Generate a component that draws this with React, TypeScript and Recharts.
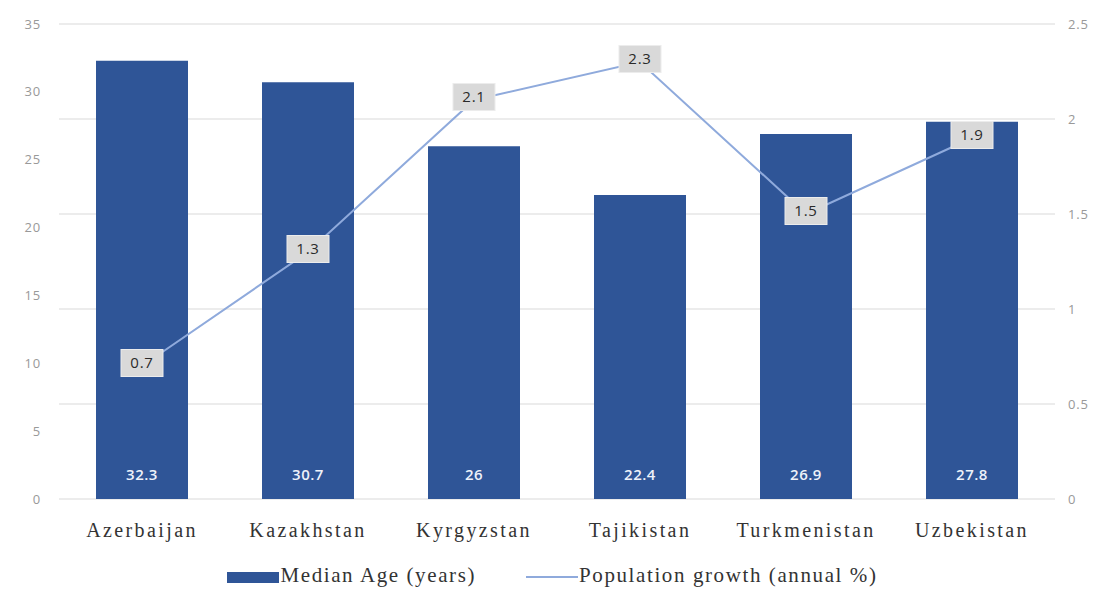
import React from 'react';
import { ComposedChart, Bar, Line, XAxis, YAxis, CartesianGrid, LabelList, Legend } from 'recharts';

const countries = ['Azerbaijan', 'Kazakhstan', 'Kyrgyzstan', 'Tajikistan', 'Turkmenistan', 'Uzbekistan'];
const medianAge = [32.3, 30.7, 26, 22.4, 26.9, 27.8];
const popGrowth = [0.7, 1.3, 2.1, 2.3, 1.5, 1.9];
const leftTicks = [0, 5, 10, 15, 20, 25, 30, 35];
const rightTicks = [0, 0.5, 1, 1.5, 2, 2.5];

const data = countries.map((c, i) => ({ country: c, age: medianAge[i], growth: popGrowth[i] }));

const BAR_COLOR = '#2F5597';
const LINE_COLOR = '#8FAADC';

const LineLabel = (props: any) => {
  const { x, y, value } = props;
  const w = 42;
  const h = 27;
  const cy = y - 3;
  return (
    <g>
      <rect x={x - w / 2} y={cy - h / 2} width={w} height={h} fill="#d9d9d9" stroke="#ececec" strokeWidth={1} />
      <text x={x} y={cy + 1} textAnchor="middle" dominantBaseline="middle" fontFamily="Open Sans, sans-serif" fontSize={15} letterSpacing={0.8} fill="#2a2a2a">
        {value}
      </text>
    </g>
  );
};

const LegendContent = () => (
  <div style={{ display: 'flex', justifyContent: 'center', alignItems: 'center', height: 26, fontFamily: 'Liberation Serif, serif', fontSize: 21, letterSpacing: 1.6, color: '#333', paddingLeft: 6 }}>
    <span style={{ display: 'inline-block', width: 52, height: 11, background: BAR_COLOR, marginRight: 1, position: 'relative', top: 2 }} />
    <span>Median Age (years)</span>
    <span style={{ display: 'inline-block', width: 52, height: 2, background: LINE_COLOR, marginLeft: 50, marginRight: 1, position: 'relative', top: 2 }} />
    <span>Population growth (annual %)</span>
  </div>
);

export default function App() {
  return (
    <div style={{ margin: -8, width: 1099, height: 596, background: '#fff' }}>
      <ComposedChart width={1099} height={596} data={data} margin={{ top: 24, right: 0, bottom: 0, left: 0 }}>
        <CartesianGrid yAxisId="right" vertical={false} stroke="#d9d9d9" />
        <XAxis
          dataKey="country"
          axisLine={false}
          tickLine={false}
          height={97 - 30}
          tickMargin={18}
          tick={{ fontFamily: 'Liberation Serif, serif', fontSize: 20, letterSpacing: 2.4, fill: '#333' }}
        />
        <YAxis
          yAxisId="left"
          orientation="left"
          width={59}
          domain={[0, 35]}
          ticks={leftTicks}
          axisLine={false}
          tickLine={false}
          tickMargin={12}
          tick={{ fontFamily: 'Open Sans, sans-serif', fontSize: 13, letterSpacing: 0.8, fill: '#999' }}
        />
        <YAxis
          yAxisId="right"
          orientation="right"
          width={44}
          domain={[0, 2.5]}
          ticks={rightTicks}
          axisLine={false}
          tickLine={false}
          tickMargin={7}
          tick={{ fontFamily: 'Open Sans, sans-serif', fontSize: 13, letterSpacing: 0.8, fill: '#999' }}
        />
        <Bar yAxisId="left" dataKey="age" fill={BAR_COLOR} barSize={92} isAnimationActive={false}>
          <LabelList
            dataKey="age"
            position="insideBottom"
            offset={19}
            fill="#eef2fa"
            fontFamily="Open Sans, sans-serif"
            fontSize={15}
            letterSpacing={0.5}
            fontWeight={600}
          />
        </Bar>
        <Line
          yAxisId="right"
          dataKey="growth"
          stroke={LINE_COLOR}
          strokeWidth={2}
          dot={false}
          activeDot={false}
          isAnimationActive={false}
        >
          <LabelList dataKey="growth" content={<LineLabel />} />
        </Line>
        <Legend verticalAlign="bottom" height={30} content={<LegendContent />} wrapperStyle={{ bottom: 4 }} />
      </ComposedChart>
    </div>
  );
}
